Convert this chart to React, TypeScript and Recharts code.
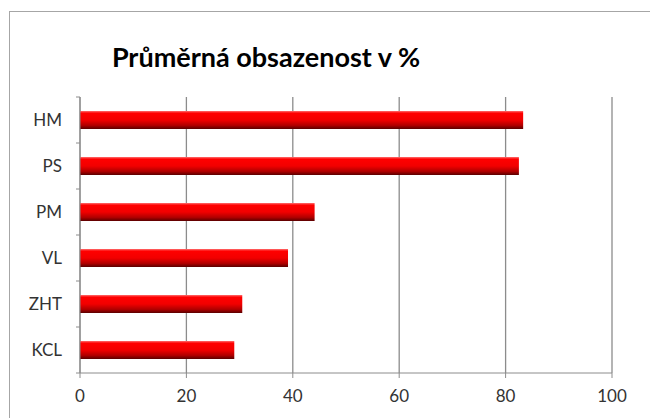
import { Bar, BarChart, CartesianGrid, XAxis, YAxis } from "recharts";

const categories = ["HM", "PS", "PM", "VL", "ZHT", "KCL"];
const occupancy = [83.3, 82.5, 44.1, 39.1, 30.5, 29.0];
const xTicks = [0, 20, 40, 60, 80, 100];

const data = categories.map((name, i) => ({ name, value: occupancy[i] }));

const FONT = "Lato, 'Open Sans', sans-serif";
const PLOT_TOP = 97;
const PLOT_BOTTOM = 373;
const BAND = (PLOT_BOTTOM - PLOT_TOP) / categories.length;

const CategoryTick = (props: any) => {
  const { x, y, payload, index } = props;
  const axisX = x + 8;
  const isLast = index === categories.length - 1;
  return (
    <g>
      <line x1={axisX - 4} x2={axisX} y1={y - BAND / 2} y2={y - BAND / 2} stroke="#8c8c8c" />
      {isLast && (
        <line x1={axisX - 4} x2={axisX} y1={y + BAND / 2} y2={y + BAND / 2} stroke="#8c8c8c" />
      )}
      <text
        x={axisX - 18}
        y={y}
        dy={6}
        textAnchor="end"
        fill="#333"
        fontSize={17}
        fontFamily={FONT}
      >
        {payload.value}
      </text>
    </g>
  );
};

export default function App() {
  return (
    <div
      style={{
        position: "absolute",
        left: 0,
        top: 0,
        width: 650,
        height: 418,
        overflow: "hidden",
        background: "#fff",
      }}
    >
      <div
        style={{
          position: "absolute",
          left: 9,
          top: 11,
          width: 700,
          height: 500,
          border: "1px solid #a6a6a6",
        }}
      />
      <div
        style={{
          position: "absolute",
          left: 0,
          top: 41,
          width: 532,
          textAlign: "center",
          fontFamily: FONT,
          fontWeight: 700,
          fontSize: 27,
          lineHeight: 1.2,
          color: "#000",
        }}
      >
        Průměrná obsazenost v %
      </div>
      <div style={{ position: "absolute", left: 0, top: 0 }}>
        <BarChart
          width={650}
          height={418}
          layout="vertical"
          data={data}
          margin={{ top: PLOT_TOP, right: 38, bottom: 15, left: 10 }}
        >
          <defs>
            <linearGradient id="barFill" x1="0" y1="0" x2="0" y2="1">
              <stop offset="0%" stopColor="#ff7070" />
              <stop offset="12%" stopColor="#ff0000" />
              <stop offset="50%" stopColor="#f20000" />
              <stop offset="80%" stopColor="#b00000" />
              <stop offset="100%" stopColor="#5a0000" />
            </linearGradient>
          </defs>
          <CartesianGrid horizontal={false} stroke="#8c8c8c" strokeWidth={1.3} />
          <XAxis
            type="number"
            domain={[0, 100]}
            ticks={xTicks}
            height={30}
            stroke="#8c8c8c"
            tickSize={5}
            tick={{ fill: "#333", fontSize: 17, fontFamily: FONT, dy: 10 }}
          />
          <YAxis
            type="category"
            dataKey="name"
            width={70}
            stroke="#8c8c8c"
            tickLine={false}
            tick={<CategoryTick />}
          />
          <Bar
            dataKey="value"
            fill="url(#barFill)"
            barSize={18}
            isAnimationActive={false}
          />
        </BarChart>
      </div>
    </div>
  );
}
